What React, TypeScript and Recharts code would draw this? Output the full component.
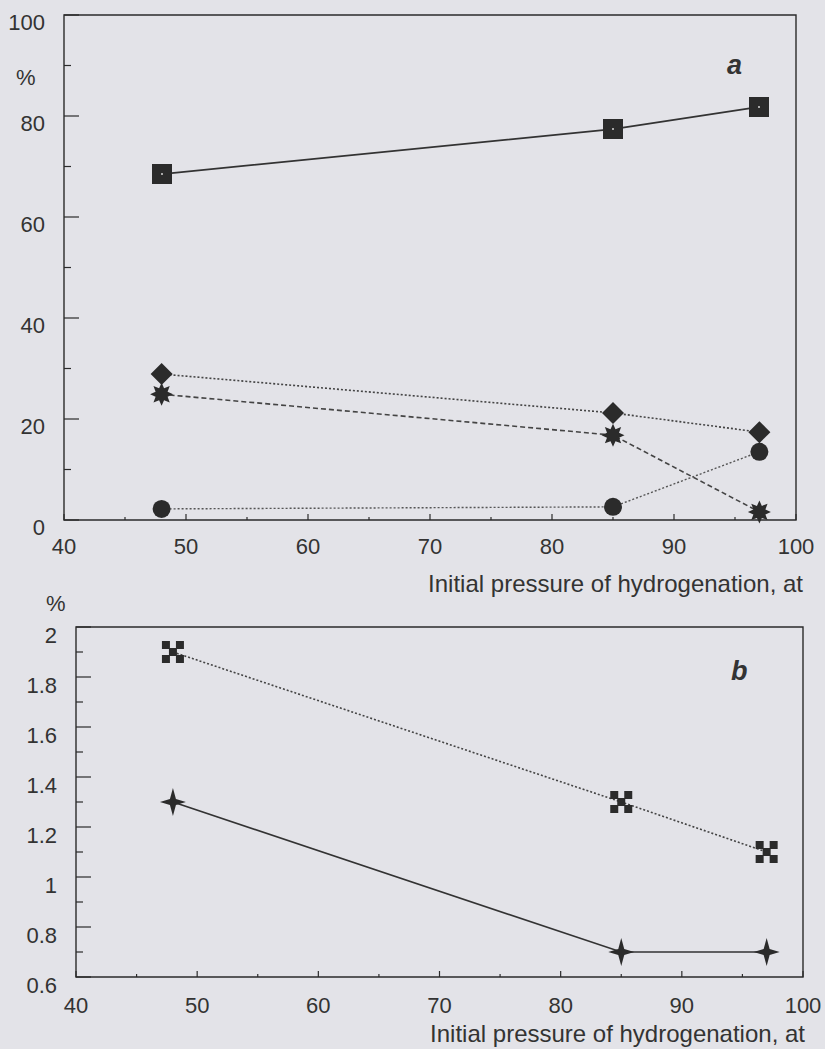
import React from 'react';
import { LineChart, Line, XAxis, YAxis, ReferenceArea } from 'recharts';

// x values shared by every series (initial hydrogen pressure, at)
const pressure = [48, 85, 97];

// panel a, %
const squaresA = [68.5, 77.4, 81.8];
const diamondsA = [28.9, 21.2, 17.4];
const asterisksA = [24.9, 16.8, 1.6];
const circlesA = [2.2, 2.6, 13.5];

// panel b, %
const crossesB = [1.9, 1.3, 1.1];
const starsB = [1.3, 0.7, 0.7];

const xTicks = [40, 45, 50, 55, 60, 65, 70, 75, 80, 85, 90, 95, 100];
const xLabels = [40, 50, 60, 70, 80, 90, 100];
const yTicksA = [0, 10, 20, 30, 40, 50, 60, 70, 80, 90, 100];
const yLabelsA = [0, 20, 40, 60, 80, 100];
const yTicksB = [0.6, 0.7, 0.8, 0.9, 1, 1.1, 1.2, 1.3, 1.4, 1.5, 1.6, 1.7, 1.8, 1.9, 2];
const yLabelsB = [0.6, 0.8, 1, 1.2, 1.4, 1.6, 1.8, 2];

const INK = '#2b2b2b';
const TEXT = '#333';
const FONT = '"Liberation Sans", Arial, sans-serif';

const dataA = pressure.map((p, i) => ({
  p,
  square: squaresA[i],
  diamond: diamondsA[i],
  asterisk: asterisksA[i],
  circle: circlesA[i],
}));

const dataB = pressure.map((p, i) => ({
  p,
  cross: crossesB[i],
  star: starsB[i],
}));

const makeXTick = (dy: number) => (props: any) => {
  const { x, y, payload } = props;
  const major = xLabels.includes(payload.value);
  return (
    <g>
      <line x1={x} x2={x} y1={y} y2={y - (major ? 6 : 3)} stroke={INK} strokeWidth={1.2} />
      {major && (
        <text x={x} y={y + dy} textAnchor="middle" dominantBaseline="central"
          fontSize={22} fontFamily={FONT} fill={TEXT}>
          {payload.value}
        </text>
      )}
    </g>
  );
};

const makeYTick = (labels: number[], dy: number) => (props: any) => {
  const { x, y, payload } = props;
  const major = labels.some((v) => Math.abs(v - payload.value) < 1e-6);
  return (
    <g>
      <line x1={x} x2={x + (major ? 15 : 7)} y1={y} y2={y} stroke={INK} strokeWidth={1.2} />
      {major && (
        <text x={x - 19} y={y + dy} textAnchor="end" dominantBaseline="central"
          fontSize={22} fontFamily={FONT} fill={TEXT}>
          {payload.value}
        </text>
      )}
    </g>
  );
};

const squareDot = (props: any) => {
  const { cx, cy, index } = props;
  return (
    <g key={`sq-${index}`}>
      <rect x={Math.round(cx) - 10} y={Math.round(cy) - 10} width={20} height={20} fill={INK} />
      <rect x={Math.round(cx) - 1} y={Math.round(cy) - 1} width={2} height={2} fill="#aaa" />
    </g>
  );
};

const diamondDot = (props: any) => {
  const { cx, cy, index } = props;
  return (
    <polygon key={`di-${index}`} fill={INK}
      points={`${cx},${cy - 11} ${cx + 11},${cy} ${cx},${cy + 11} ${cx - 11},${cy}`} />
  );
};

const asteriskDot = (props: any) => {
  const { cx, cy, index } = props;
  const pts: string[] = [];
  for (let k = 0; k < 16; k++) {
    const r = k % 2 === 0 ? 11.5 : 6.5;
    const a = -Math.PI / 2 + (k * Math.PI) / 8;
    pts.push(`${cx + r * Math.cos(a)},${cy + r * Math.sin(a)}`);
  }
  return <polygon key={`as-${index}`} fill={INK} points={pts.join(' ')} />;
};

const circleDot = (props: any) => {
  const { cx, cy, index } = props;
  return <circle key={`ci-${index}`} cx={cx} cy={cy} r={9} fill={INK} />;
};

const crossDot = (props: any) => {
  const { cx, cy, index } = props;
  const offs = [[-7, -7], [7, -7], [0, 0], [-7, 7], [7, 7]];
  return (
    <g key={`cr-${index}`}>
      {offs.map(([dx, dy], j) => (
        <rect key={j} x={cx + dx - 4} y={cy + dy - 4} width={8} height={8} fill={INK} />
      ))}
    </g>
  );
};

const starDot = (props: any) => {
  const { cx, cy, index } = props;
  const d = `M${cx},${cy - 14} L${cx + 3},${cy - 3} L${cx + 13},${cy} L${cx + 3},${cy + 3} L${cx},${cy + 14} L${cx - 3},${cy + 3} L${cx - 13},${cy} L${cx - 3},${cy - 3} Z`;
  return <path key={`st-${index}`} d={d} fill={INK} />;
};

const textStyle: React.CSSProperties = {
  position: 'absolute',
  fontFamily: FONT,
  color: TEXT,
  whiteSpace: 'nowrap',
};

export default function App() {
  return (
    <div style={{ position: 'absolute', left: 0, top: 0, width: 825, height: 1049, background: '#e3e3e8', overflow: 'hidden' }}>
      <div style={{ position: 'absolute', left: 0, top: 0 }}>
        <LineChart width={825} height={600} data={dataA} margin={{ top: 15, right: 29, bottom: 50, left: 0 }}>
          <XAxis dataKey="p" type="number" domain={[40, 100]} ticks={xTicks} interval={0}
            height={30} axisLine={false} tickLine={false} tickSize={0} tickMargin={0} tick={makeXTick(26)} />
          <YAxis type="number" domain={[0, 100]} ticks={yTicksA} interval={0}
            width={64} axisLine={false} tickLine={false} tickSize={0} tickMargin={0} tick={makeYTick(yLabelsA, 7)} />
          <ReferenceArea x1={40} x2={100} y1={0} y2={100} fill="none" stroke={INK} strokeWidth={1.4} />
          <Line dataKey="square" stroke="#333" strokeWidth={1.7} dot={squareDot} activeDot={false} isAnimationActive={false} />
          <Line dataKey="diamond" stroke="#444" strokeWidth={1.6} strokeDasharray="2 2" dot={diamondDot} activeDot={false} isAnimationActive={false} />
          <Line dataKey="asterisk" stroke="#444" strokeWidth={1.6} strokeDasharray="5 3" dot={asteriskDot} activeDot={false} isAnimationActive={false} />
          <Line dataKey="circle" stroke="#555" strokeWidth={1.4} strokeDasharray="2 2" dot={circleDot} activeDot={false} isAnimationActive={false} />
        </LineChart>
      </div>

      <div style={{ position: 'absolute', left: 0, top: 590 }}>
        <LineChart width={825} height={459} data={dataB} margin={{ top: 37, right: 22, bottom: 42, left: 0 }}>
          <XAxis dataKey="p" type="number" domain={[40, 100]} ticks={xTicks} interval={0}
            height={30} axisLine={false} tickLine={false} tickSize={0} tickMargin={0} tick={makeXTick(28)} />
          <YAxis type="number" domain={[0.6, 2]} ticks={yTicksB} interval={0}
            width={76} axisLine={false} tickLine={false} tickSize={0} tickMargin={0} tick={makeYTick(yLabelsB, 8.5)} />
          <ReferenceArea x1={40} x2={100} y1={0.6} y2={2} fill="none" stroke={INK} strokeWidth={1.4} />
          <Line dataKey="cross" stroke="#444" strokeWidth={1.6} strokeDasharray="2 2" dot={crossDot} activeDot={false} isAnimationActive={false} />
          <Line dataKey="star" stroke="#333" strokeWidth={1.7} dot={starDot} activeDot={false} isAnimationActive={false} />
        </LineChart>
      </div>

      <div style={{ ...textStyle, left: 16, top: 66, fontSize: 22, lineHeight: '24px' }}>%</div>
      <div style={{ ...textStyle, left: 727, top: 50, fontSize: 27, lineHeight: '30px', fontWeight: 'bold', fontStyle: 'italic' }}>a</div>
      <div style={{ ...textStyle, right: 22, top: 571, fontSize: 24, lineHeight: '26px' }}>Initial pressure of hydrogenation, at</div>

      <div style={{ ...textStyle, left: 46, top: 592, fontSize: 22, lineHeight: '24px' }}>%</div>
      <div style={{ ...textStyle, left: 731, top: 656, fontSize: 27, lineHeight: '30px', fontWeight: 'bold', fontStyle: 'italic' }}>b</div>
      <div style={{ ...textStyle, right: 20, top: 1021, fontSize: 24, lineHeight: '26px' }}>Initial pressure of hydrogenation, at</div>
    </div>
  );
}
